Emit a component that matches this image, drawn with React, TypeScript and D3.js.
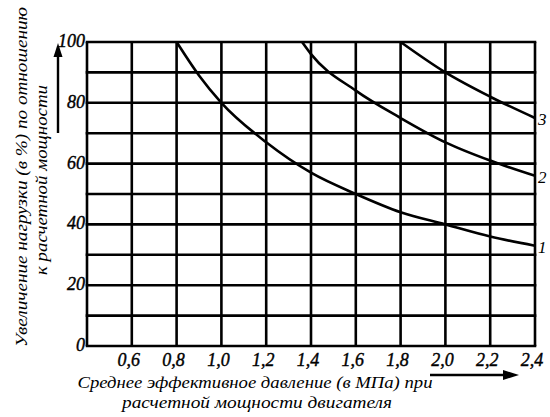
import React, { useEffect, useRef } from 'react'
import * as d3 from 'd3'

// curves: [pressure MPa, load %]
const curve1: [number, number][] = [
  [0.8, 100], [0.9, 89], [1.0, 80], [1.2, 67], [1.4, 57], [1.6, 50],
  [1.8, 44], [2.0, 40], [2.2, 36], [2.4, 33]
]
const curve2: [number, number][] = [
  [1.36, 100], [1.4, 96], [1.6, 84], [1.8, 75], [2.0, 67], [2.2, 61], [2.4, 56]
]
const curve3: [number, number][] = [
  [1.8, 100], [2.0, 90], [2.2, 82], [2.4, 75]
]
const curveNames = ['1', '2', '3']

const xGrid = [0.4, 0.6, 0.8, 1.0, 1.2, 1.4, 1.6, 1.8, 2.0, 2.2, 2.4]
const xTickLabels = ['0,6', '0,8', '1,0', '1,2', '1,4', '1,6', '1,8', '2,0', '2,2', '2,4']
const yGrid = [0, 10, 20, 30, 40, 50, 60, 70, 80, 90, 100]
const yTickValues = [0, 20, 40, 60, 80, 100]

const yTitle = ['Увеличение нагрузки (в %) по отношению', 'к расчетной мощности']
const xTitle = ['Среднее эффективное давление (в МПа) при', 'расчетной мощности двигателя']

const FONT = '"Liberation Serif", "Times New Roman", serif'

export default function App() {
  const ref = useRef<SVGSVGElement>(null)

  useEffect(() => {
    const svg = d3.select(ref.current)
    svg.selectAll('*').remove()

    const x = d3.scaleLinear().domain([0.4, 2.4]).range([87, 535])
    const y = d3.scaleLinear().domain([0, 100]).range([346, 42])

    const g = svg.append('g')

    // grid
    g.selectAll('.vgrid')
      .data(xGrid)
      .enter()
      .append('line')
      .attr('x1', d => x(d))
      .attr('x2', d => x(d))
      .attr('y1', y(0))
      .attr('y2', y(100))
      .attr('stroke', '#000')
      .attr('stroke-width', 2.6)

    g.selectAll('.hgrid')
      .data(yGrid)
      .enter()
      .append('line')
      .attr('x1', x(0.4))
      .attr('x2', x(2.4))
      .attr('y1', d => y(d))
      .attr('y2', d => y(d))
      .attr('stroke', '#000')
      .attr('stroke-width', 2.6)
      .attr('stroke-linecap', 'square')

    // curves
    const line = d3.line<[number, number]>()
      .x(d => x(d[0]))
      .y(d => y(d[1]))
      .curve(d3.curveMonotoneX)

    const curves = [curve1, curve2, curve3]
    g.selectAll('.curve')
      .data(curves)
      .enter()
      .append('path')
      .attr('d', d => line(d))
      .attr('fill', 'none')
      .attr('stroke', '#000')
      .attr('stroke-width', 2.6)

    g.selectAll('.curve-label')
      .data(curves)
      .enter()
      .append('text')
      .attr('x', d => x(d[d.length - 1][0]) + 3)
      .attr('y', d => y(d[d.length - 1][1]) + 7)
      .attr('font-family', FONT)
      .attr('font-style', 'italic')
      .attr('font-size', 17)
      .text((d, i) => curveNames[i])

    // tick labels (slightly heavier, like the scan)
    g.selectAll('.xtick')
      .data(xGrid.slice(1))
      .enter()
      .append('text')
      .attr('x', d => x(d) - 3)
      .attr('y', 366)
      .attr('text-anchor', 'middle')
      .attr('font-family', FONT)
      .attr('font-style', 'italic')
      .attr('font-size', 18)
      .attr('stroke', '#000')
      .attr('stroke-width', 0.4)
      .text((d, i) => xTickLabels[i])

    g.selectAll('.ytick')
      .data(yTickValues)
      .enter()
      .append('text')
      .attr('x', 85)
      .attr('y', d => y(d) + 5)
      .attr('text-anchor', 'end')
      .attr('font-family', FONT)
      .attr('font-style', 'italic')
      .attr('font-size', 18)
      .attr('stroke', '#000')
      .attr('stroke-width', 0.4)
      .text(d => d)

    // axis titles
    const yt = g.append('g').attr('font-family', FONT).attr('font-style', 'italic').attr('font-size', 16)
    yt.append('text')
      .attr('transform', 'translate(27,177) rotate(-90)')
      .attr('text-anchor', 'middle')
      .attr('textLength', 340)
      .attr('lengthAdjust', 'spacingAndGlyphs')
      .text(yTitle[0])
    yt.append('text')
      .attr('transform', 'translate(47,180) rotate(-90)')
      .attr('text-anchor', 'middle')
      .attr('textLength', 190)
      .attr('lengthAdjust', 'spacingAndGlyphs')
      .text(yTitle[1])

    const xt = g.append('g').attr('font-family', FONT).attr('font-style', 'italic').attr('font-size', 16)
    xt.append('text')
      .attr('x', 255)
      .attr('y', 388)
      .attr('text-anchor', 'middle')
      .attr('textLength', 355)
      .attr('lengthAdjust', 'spacingAndGlyphs')
      .text(xTitle[0])
    xt.append('text')
      .attr('x', 257)
      .attr('y', 408)
      .attr('text-anchor', 'middle')
      .attr('textLength', 270)
      .attr('lengthAdjust', 'spacingAndGlyphs')
      .text(xTitle[1])

    // arrows
    g.append('line')
      .attr('x1', 58).attr('y1', 133)
      .attr('x2', 58).attr('y2', 55)
      .attr('stroke', '#000')
      .attr('stroke-width', 2.4)
    g.append('path')
      .attr('d', 'M58,43 L62.5,57 L53.5,57 Z')
      .attr('fill', '#000')
    g.append('line')
      .attr('x1', 430).attr('y1', 375)
      .attr('x2', 505).attr('y2', 375)
      .attr('stroke', '#000')
      .attr('stroke-width', 2.4)
    g.append('path')
      .attr('d', 'M519,375 L503,370 L503,380 Z')
      .attr('fill', '#000')
  }, [])

  return (
    <svg
      ref={ref}
      width={550}
      height={417}
      style={{ position: 'absolute', left: 0, top: 0, background: '#fff' }}
    />
  )
}
